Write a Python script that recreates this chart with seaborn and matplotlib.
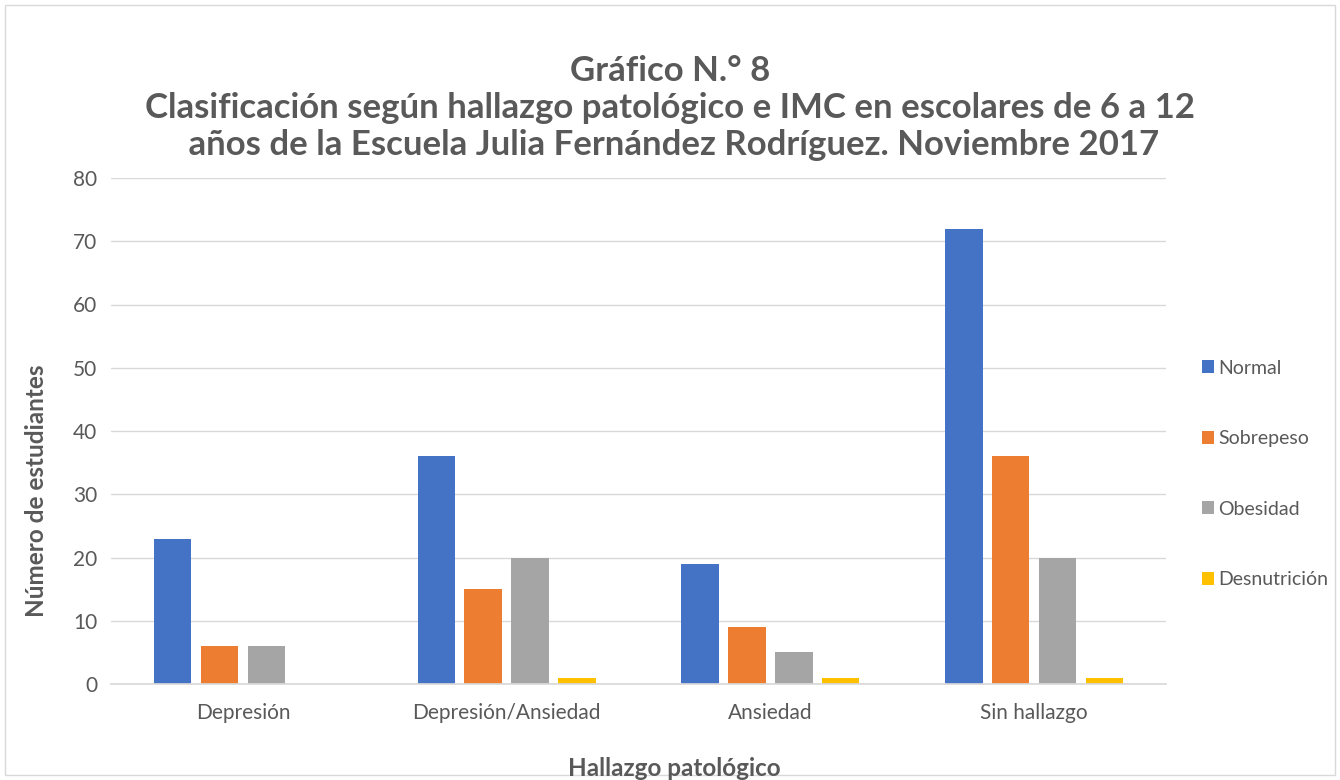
import matplotlib
matplotlib.use("Agg")
import matplotlib.pyplot as plt
import seaborn as sns
import pandas as pd
from matplotlib.patches import Rectangle

categorias = ["Depresión", "Depresión/Ansiedad", "Ansiedad", "Sin hallazgo"]
series = ["Normal", "Sobrepeso", "Obesidad", "Desnutrición"]
normal = [23, 36, 19, 72]
sobrepeso = [6, 15, 9, 36]
obesidad = [6, 20, 5, 20]
desnutricion = [0, 1, 1, 1]
colores = ["#4472C4", "#ED7D31", "#A5A5A5", "#FFC000"]

sns.set_theme(style="white")
plt.rcParams["font.family"] = ["Lato", "DejaVu Sans"]

filas = []
for nombre, valores in zip(series, [normal, sobrepeso, obesidad, desnutricion]):
    for cat, v in zip(categorias, valores):
        filas.append({"Hallazgo": cat, "IMC": nombre, "Estudiantes": v})
df = pd.DataFrame(filas)

fig = plt.figure(figsize=(13.4, 7.8), dpi=100)
ax = fig.add_axes([111 / 1340, 1 - 684 / 780, 1055 / 1340, 506 / 780])

sns.barplot(data=df, x="Hallazgo", y="Estudiantes", hue="IMC", order=categorias,
            hue_order=series, palette=colores, width=0.71, gap=0.2, saturation=1,
            linewidth=0, ax=ax, legend=True)

ax.set_ylim(0, 80)
ax.set_yticks(range(0, 81, 10))
ax.grid(axis="y", color="#D9D9D9", linewidth=1)
ax.set_axisbelow(True)
for s in ["top", "right", "left"]:
    ax.spines[s].set_visible(False)
ax.spines["bottom"].set_color("#D9D9D9")
ax.tick_params(axis="both", length=0, labelsize=15, colors="#595959", pad=10)
ax.tick_params(axis="x", pad=14)
ax.set_xlabel("")
ax.set_ylabel("")

h, l = ax.get_legend_handles_labels()
ax.get_legend().remove()
fig.legend(h, l, loc="center left", bbox_to_anchor=(1184 / 1340, 1 - 474 / 780),
           frameon=False, fontsize=14, labelcolor="#595959", handlelength=0.65,
           handleheight=0.65, handletextpad=0.2, labelspacing=2.75)

fig.text(0.5, 1 - 108 / 780,
         "Gráfico N.° 8\n"
         "Clasificación según hallazgo patológico e IMC en escolares de 6 a 12\n"
         " años de la Escuela Julia Fernández Rodríguez. Noviembre 2017",
         ha="center", va="center", fontsize=25, fontweight="bold", color="#595959",
         linespacing=1.2)
fig.text(37 / 1340, 1 - 491 / 780, "Número de estudiantes", rotation=90,
         ha="center", va="center", fontsize=17.5, fontweight="bold", color="#595959")
fig.text(674 / 1340, 1 - 768 / 780, "Hallazgo patológico", ha="center", va="center",
         fontsize=17.5, fontweight="bold", color="#595959")

fig.patches.append(Rectangle((5 / 1340, 5 / 780), 1330 / 1340, 770 / 780,
                             transform=fig.transFigure, fill=False,
                             edgecolor="#D9D9D9", linewidth=1))

fig.savefig("out.png", dpi=100)
